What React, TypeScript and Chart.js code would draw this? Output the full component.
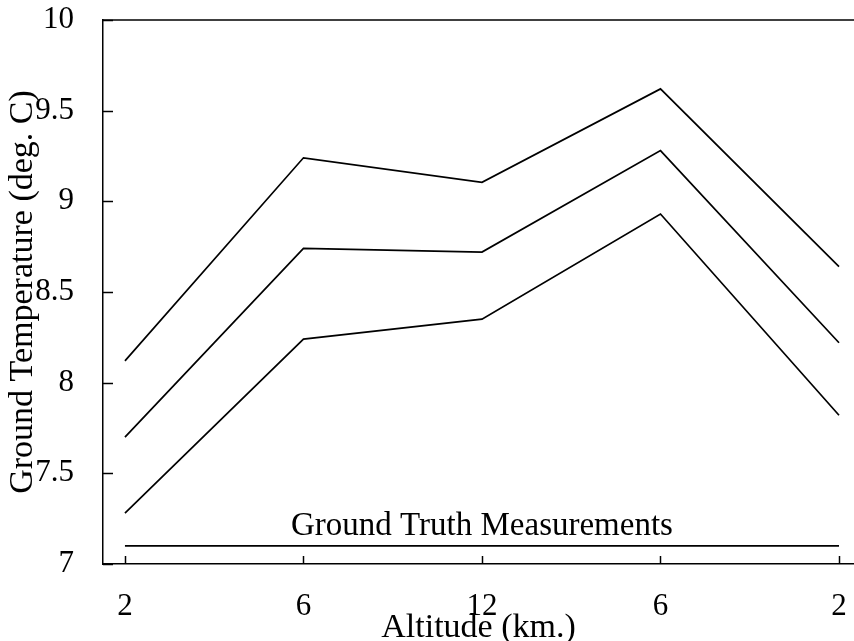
import React, { useEffect, useRef } from 'react';
import { Chart, registerables } from 'chart.js';

Chart.register(...registerables);

const xLabels = ['2', '6', '12', '6', '2'];
const xPositions = [0, 1, 2, 3, 4];
const upperSeries = [8.12, 9.24, 9.105, 9.62, 8.64];
const middleSeries = [7.7, 8.74, 8.72, 9.28, 8.22];
const lowerSeries = [7.28, 8.24, 8.35, 8.93, 7.82];
const groundTruth = [7.1, 7.1, 7.1, 7.1, 7.1];
const yTicks = [7, 7.5, 8, 8.5, 9, 9.5, 10];
const groundTruthLabel = 'Ground Truth Measurements';
const xTitle = 'Altitude (km.)';
const yTitle = 'Ground Temperature (deg. C)';

const FONT = '"Liberation Serif", "Times New Roman", serif';

const framePlugin = {
  id: 'frame',
  afterDraw(chart: any) {
    const { ctx, chartArea, scales } = chart;
    ctx.save();
    ctx.strokeStyle = '#000';
    ctx.lineWidth = 1.5;
    ctx.beginPath();
    ctx.moveTo(chartArea.left, chartArea.top);
    ctx.lineTo(chartArea.right, chartArea.top);
    ctx.stroke();
    scales.y.ticks.forEach((t: any) => {
      const py = Math.round(scales.y.getPixelForValue(t.value)) + 0.5;
      ctx.beginPath();
      ctx.moveTo(chartArea.left, py);
      ctx.lineTo(chartArea.left + 10, py);
      ctx.stroke();
    });
    scales.x.ticks.forEach((t: any) => {
      const px = Math.round(scales.x.getPixelForValue(t.value)) + 0.5;
      ctx.beginPath();
      ctx.moveTo(px, chartArea.bottom);
      ctx.lineTo(px, chartArea.bottom - 8);
      ctx.stroke();
    });
    ctx.fillStyle = '#000';
    ctx.font = `33px ${FONT}`;
    ctx.textAlign = 'center';
    ctx.textBaseline = 'alphabetic';
    ctx.fillText(
      groundTruthLabel,
      scales.x.getPixelForValue(xPositions[2]),
      scales.y.getPixelForValue(groundTruth[2]) - 11
    );
    ctx.restore();
  },
};

export default function App() {
  const ref = useRef<HTMLCanvasElement>(null);
  useEffect(() => {
    document.body.style.margin = '0';
    const mk = (vals: number[]) => xPositions.map((x, i) => ({ x, y: vals[i] }));
    const line = (label: string, vals: number[]) => ({
      label,
      data: mk(vals),
      borderColor: '#000',
      borderWidth: 1.7,
      pointRadius: 0,
      fill: false,
      tension: 0,
    });
    const chart = new Chart(ref.current as HTMLCanvasElement, {
      type: 'line',
      data: {
        datasets: [
          line('upper', upperSeries),
          line('middle', middleSeries),
          line('lower', lowerSeries),
          line(groundTruthLabel, groundTruth),
        ],
      },
      options: {
        animation: false,
        responsive: false,
        layout: { padding: { top: 20, right: 0, left: 0, bottom: 0 } },
        plugins: { legend: { display: false }, tooltip: { enabled: false } },
        scales: {
          x: {
            type: 'linear',
            min: -0.123,
            max: 4.084,
            grid: { display: false },
            border: { display: true, color: '#000', width: 1.5 },
            afterBuildTicks: (s: any) => {
              s.ticks = xPositions.map((v) => ({ value: v }));
            },
            afterFit: (s: any) => {
              s.height = 77;
              s.paddingLeft = 0;
              s.paddingRight = 0;
            },
            ticks: {
              color: '#000',
              font: { family: FONT, size: 31 },
              padding: 16,
              maxRotation: 0,
              autoSkip: false,
              callback: (v: any) => {
                const i = xPositions.indexOf(Number(v));
                return i >= 0 ? xLabels[i] : '';
              },
            },
            title: {
              display: true,
              text: xTitle,
              color: '#000',
              font: { family: FONT, size: 34 },
              padding: { top: 0, bottom: -7 },
            },
          },
          y: {
            min: 7,
            max: 10,
            grid: { display: false },
            border: { display: true, color: '#000', width: 1.5 },
            afterBuildTicks: (s: any) => {
              s.ticks = yTicks.map((v) => ({ value: v }));
            },
            afterFit: (s: any) => {
              s.width = 103;
              s.paddingTop = 0;
              s.paddingBottom = 0;
            },
            ticks: {
              color: '#000',
              font: { family: FONT, size: 31 },
              padding: 21,
              autoSkip: false,
              callback: (v: any) => String(Number(v)),
            },
            title: {
              display: true,
              text: yTitle,
              color: '#000',
              font: { family: FONT, size: 34 },
              padding: { top: 3, bottom: 0 },
            },
          },
        },
      },
      plugins: [framePlugin],
    });
    return () => chart.destroy();
  }, []);
  return (
    <div style={{ position: 'absolute', left: 0, top: 0, width: 854, height: 641, background: '#fff' }}>
      <canvas ref={ref} width={854} height={641} />
    </div>
  );
}
